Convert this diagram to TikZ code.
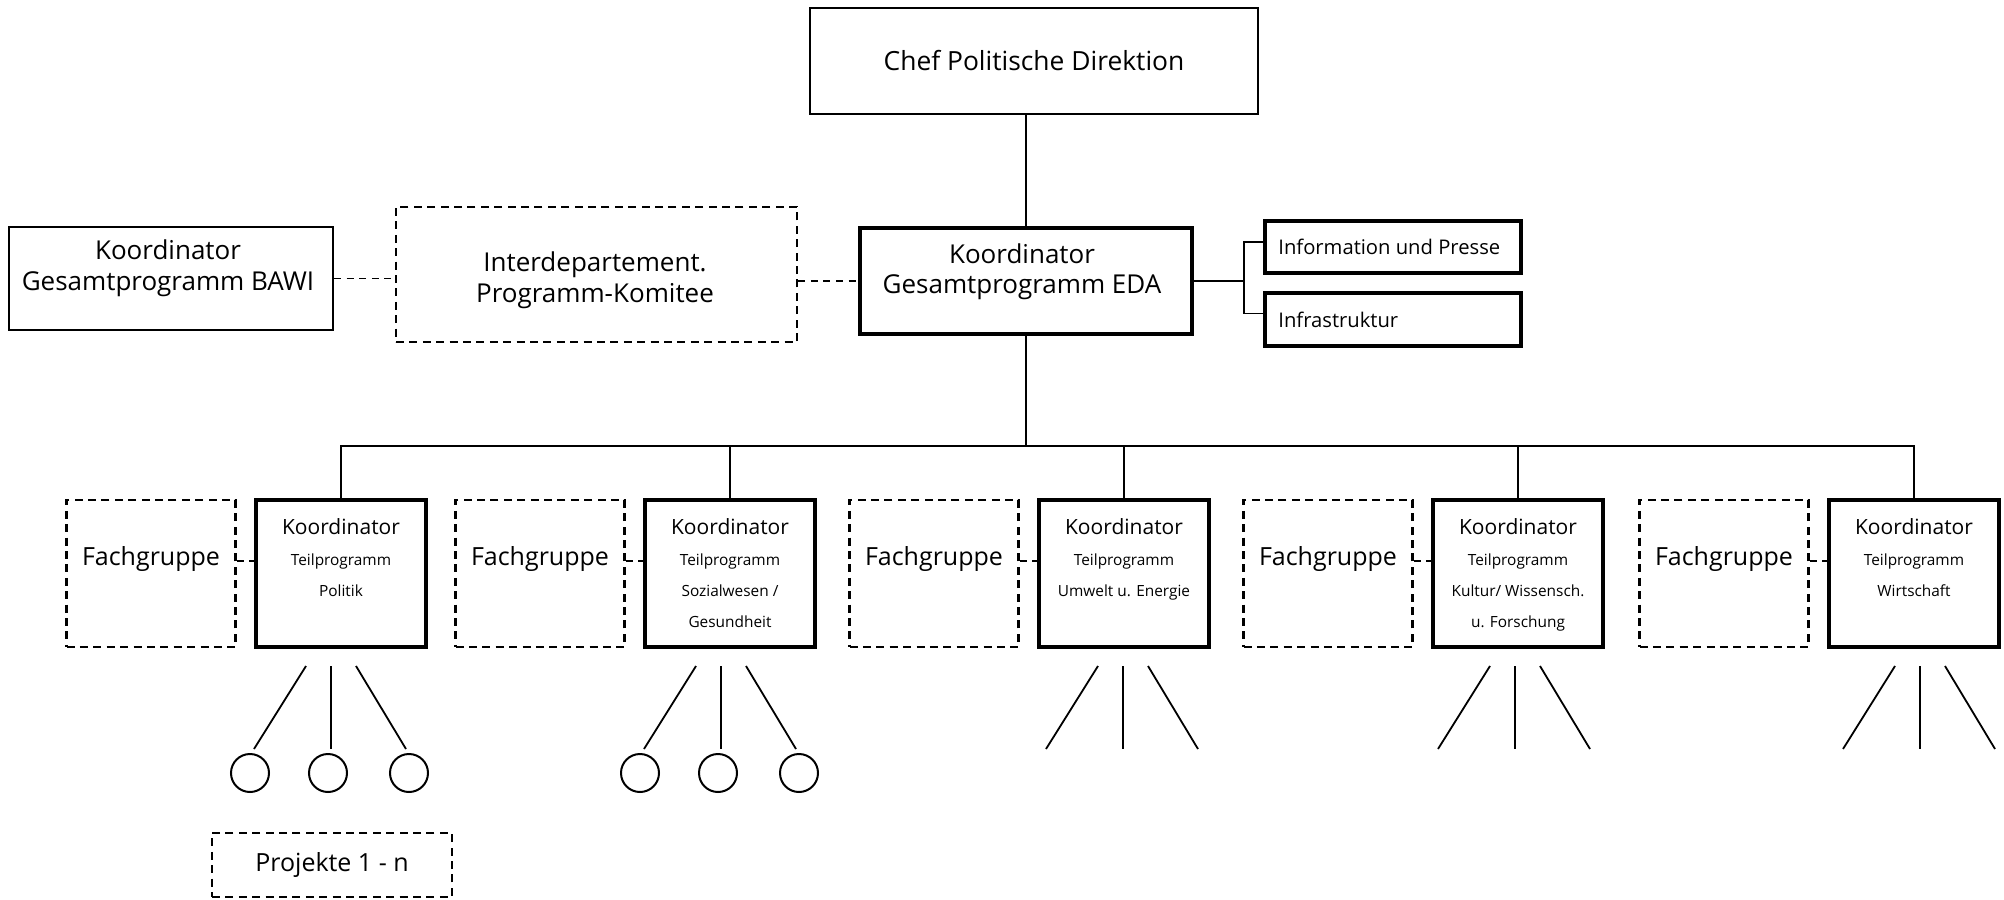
\documentclass[tikz,border=0pt]{standalone}
\usepackage{fontspec}
\setmainfont{Open Sans}
\begin{document}
\begin{tikzpicture}[x=0.5pt,y=-0.5pt,
  thinbox/.style={draw,line width=1pt,inner sep=0pt},
  thickbox/.style={draw,line width=2pt,inner sep=0pt},
  dashbox/.style={draw,line width=1.2pt,dash pattern=on 4pt off 2.7pt,inner sep=0pt},
  conn/.style={line width=0.9pt},
  dconn/.style={line width=0.9pt,dash pattern=on 3.5pt off 2.8pt},
  bigtxt/.style={font=\fontsize{13}{15}\selectfont,inner sep=0pt,anchor=base},
  infotxt/.style={font=\fontsize{10.1}{12}\selectfont,inner sep=0pt,anchor=base west},
  fgtxt/.style={font=\fontsize{12.5}{14}\selectfont,inner sep=0pt,anchor=base},
  kotxt/.style={font=\fontsize{10.5}{12}\selectfont,inner sep=0pt,anchor=base},
  smtxt/.style={font=\fontsize{7.7}{9}\selectfont,inner sep=0pt,anchor=base},
  proj/.style={circle,draw,line width=1pt,minimum size=19pt,inner sep=0pt}
]
\useasboundingbox[fill=white] (0,0) rectangle (2004,900);

% top part
\node[thinbox,minimum width=224pt,minimum height=53pt,font=\fontsize{13.2}{15}\selectfont] (chef) at (1034,61) {Chef Politische Direktion};
\node[thinbox,minimum width=162pt,minimum height=51.5pt] (bawi) at (171,278.5) {};
\node[dashbox,minimum width=200.5pt,minimum height=67.5pt] (ipk) at (596.5,274.5) {};
\node[thickbox,minimum width=166pt,minimum height=53pt] (eda) at (1026,281) {};
\node[thickbox,minimum width=128pt,minimum height=26pt] (info) at (1393,247) {};
\node[thickbox,minimum width=128pt,minimum height=26.5pt] (infra) at (1393,319.5) {};

\node[bigtxt] (bawi1) at (168,259) {Koordinator};
\node[bigtxt] (bawi2) at (168,290) {Gesamtprogramm BAWI};
\node[bigtxt] (ipk1) at (595,271) {Interdepartement.};
\node[bigtxt] (ipk2) at (595,302) {Programm-Komitee};
\node[bigtxt] (eda1) at (1022,263) {Koordinator};
\node[bigtxt] (eda2) at (1022,293) {Gesamtprogramm EDA};
\node[infotxt] (info1) at (1278,254) {Information und Presse};
\node[infotxt] (infra1) at (1278,327) {Infrastruktur};

\draw[dconn] (bawi.east) -- (bawi.east -| ipk.west);
\draw[dconn] (ipk.east |- eda.west) -- (eda.west);
\draw[conn] (eda.north) -- (eda.north |- chef.south);
\coordinate (br) at (1244,282);
\draw[conn] (eda.east) -- (eda.east -| br);
\draw[conn] ([yshift=2.5pt]info.west) -| (br) |- ([yshift=3pt]infra.west);

% bottom row
\coordinate (bus) at (1028,446);
\foreach \i/\x in {1/341,2/730,3/1124,4/1518,5/1914} {
  \node[thickbox,minimum width=85pt,minimum height=73.5pt] (k\i) at (\x,573.5) {};
  \node[dashbox,minimum width=84.5pt,minimum height=73.5pt] (f\i) at (\x-190,573.5) {};
  \node[fgtxt] (ft\i) at (\x-190,565) {Fachgruppe};
  \node[kotxt] (kt\i) at (\x,534) {Koordinator};
  \node[smtxt] (tp\i) at (\x,565) {Teilprogramm};
  \draw[dconn] ([yshift=6.25pt]f\i.east) -- ([yshift=6.25pt]f\i.east -| k\i.west);
}
\node[smtxt] (l1a) at (341,596) {Politik};
\node[smtxt] (l2a) at (730,596) {Sozialwesen /};
\node[smtxt] (l2b) at (730,627) {Gesundheit};
\node[smtxt] (l3a) at (1124,596) {Umwelt u. Energie};
\node[smtxt] (l4a) at (1518,596) {Kultur/ Wissensch.};
\node[smtxt] (l4b) at (1518,627) {u. Forschung};
\node[smtxt] (l5a) at (1914,596) {Wirtschaft};

\draw[conn] (eda.south) -- (eda.south |- bus);
\draw[conn] (k1.north) -- (k1.north |- bus) -- (k5.north |- bus) -- (k5.north);
\foreach \i in {2,3,4} { \draw[conn] (k\i.north) -- (k\i.north |- bus); }

% fans
\foreach \i/\m in {1/331,2/721,3/1123,4/1515,5/1920} {
  \coordinate (fla\i) at (\m-25,666);
  \coordinate (flb\i) at (\m-77,749);
  \coordinate (fma\i) at (\m,666);
  \coordinate (fmb\i) at (\m,749);
  \coordinate (fra\i) at (\m+25,666);
  \coordinate (frb\i) at (\m+75,749);
  \draw[conn] (fla\i) -- (flb\i);
  \draw[conn] (fma\i) -- (fmb\i);
  \draw[conn] (fra\i) -- (frb\i);
}
\foreach \i/\m in {1/331,2/721} {
  \node[proj] (ca\i) at (\m-81,773) {};
  \node[proj] (cb\i) at (\m-3,773) {};
  \node[proj] (cc\i) at (\m+78,773) {};
}
\node[dashbox,minimum width=120pt,minimum height=32pt,font=\fontsize{12.5}{14}\selectfont] (projekte) at (332,865) {Projekte 1 - n};
\end{tikzpicture}
\end{document}
